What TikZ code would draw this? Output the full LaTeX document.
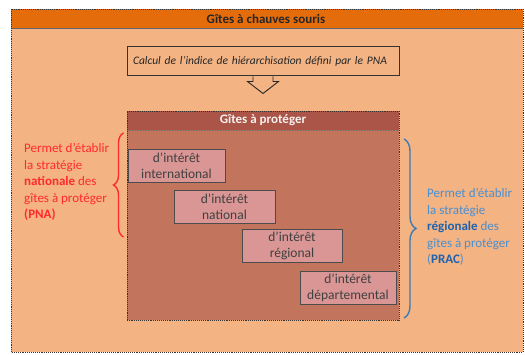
\documentclass[tikz,border=0pt]{standalone}
\usepackage{fontspec}
\setmainfont{Carlito}
\usetikzlibrary{decorations.pathreplacing}
\definecolor{headorange}{HTML}{E46C0A}
\definecolor{lightorange}{HTML}{F3B383}
\definecolor{protbar}{HTML}{AA5548}
\definecolor{protbody}{HTML}{C2745C}
\definecolor{levelpink}{HTML}{D99694}
\definecolor{pnared}{HTML}{FF2B2B}
\definecolor{pracblue}{HTML}{4A8FD0}
\definecolor{pracdark}{HTML}{1F63AE}
\begin{document}
\begin{tikzpicture}[x=1pt, y=1pt,
  dotbox/.style={draw=black!80, densely dotted, line width=0.9pt},
  level/.style={draw=black!70, line width=0.8pt, fill=levelpink, minimum width=#1,
    minimum height=33pt, inner sep=1pt, align=center,
    font=\fontsize{13.5}{16}\selectfont, text=black!75},
  sidetext/.style={anchor=west, align=left, inner sep=0pt,
    font=\fontsize{13}{16.5}\selectfont},
  bracket/.style={decorate, decoration={brace, amplitude=#1}, line width=1.4pt}]
\useasboundingbox (0,0) rectangle (525,354);
%
\path[fill=lightorange] (11,2) rectangle (523,345);
\path[fill=headorange] (11,326) rectangle (523,345);
\draw[black!60, line width=0.6pt] (11,326) -- (523,326);
\draw[dotbox] (11,2) rectangle (523,345);
\node[font=\bfseries\fontsize{13}{15}\selectfont, text=black!85] (title) at (266,335.5) {Gîtes à chauves souris};
%
\node[draw=black!80, line width=1pt, minimum width=272pt, minimum height=29pt,
  inner xsep=6pt, text width=260pt, align=left,
  font=\itshape\fontsize{11.5}{13}\selectfont, text=black!85] (calc) at (263,292.5)
  {Calcul de l’indice de hiérarchisation défini par le PNA};
\draw[black!85, line width=0.9pt, fill=lightorange, line join=miter]
     ([xshift=-10pt]calc.south)
  -- ++(0,-5)
  -- ++(-5.5,0)
  -- ([yshift=-17pt]calc.south)
  -- ++(15.5,12)
  -- ++(-5.5,0)
  -- ++(0,5);
%
\path[fill=protbody] (127,34) rectangle (399,243);
\path[fill=protbar] (127,224) rectangle (399,243);
\draw[black!55, densely dotted, line width=0.6pt] (127,224) -- (399,224);
\draw[dotbox] (127,34) rectangle (399,243);
\node[font=\bfseries\fontsize{13}{15}\selectfont, text=white!92!protbar] (prot) at (263,233.5) {Gîtes à protéger};
%
\node[level=97pt]  (inter) at (176.5,188)  {d’intérêt\\international};
\node[level=101pt] (natio) at (224.5,147.5) {d’intérêt\\national};
\node[level=100pt] (regio) at (292,108)    {d’intérêt\\régional};
\node[level=96pt]  (depar) at (348,66.5)   {d’intérêt\\départemental};
%
\coordinate (pnalow)  at (123.5,117);
\coordinate (pnahigh) at (123.5,221);
\draw[bracket=10pt, pnared] (pnalow) -- (pnahigh);
\node[sidetext, text=pnared] (pna) at (24,172)
  {Permet d’établir\\la stratégie\\\textbf{nationale} des\\gîtes à protéger\\\textbf{(PNA)}};
%
\coordinate (prachigh) at (404,215);
\coordinate (praclow)  at (404,36);
\draw[bracket=12pt, pracblue!85!black] (prachigh) -- (praclow);
\node[sidetext, text=pracblue] (prac) at (427,127)
  {Permet d’établir\\la stratégie\\\textcolor{pracdark}{\textbf{régionale}} des\\gîtes à protéger\\(\textcolor{pracdark}{\textbf{PRAC}})};
\end{tikzpicture}
\end{document}
